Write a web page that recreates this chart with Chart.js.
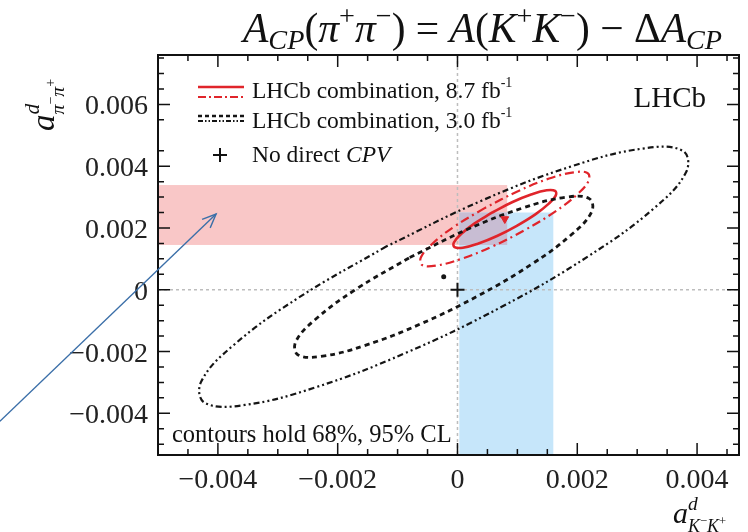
<!DOCTYPE html>
<html><head><meta charset="utf-8">
<script src="https://cdn.jsdelivr.net/npm/chart.js@4/dist/chart.umd.min.js"></script>
<style>html,body{margin:0;padding:0;background:#fff}canvas{display:block}</style>
</head><body>
<canvas id="c" width="748" height="532"></canvas>
<script>
// ---- axis ranges & ticks ----
const xRange = [-0.005, 0.0047];
const yRange = [-0.00535, 0.0076];
const xMajorTicks = [-0.004, -0.002, 0, 0.002, 0.004];
const yMajorTicks = [-0.004, -0.002, 0, 0.002, 0.004, 0.006];
const xTickLabels = ['\u22120.004', '\u22120.002', '0', '0.002', '0.004'];
const yTickLabels = ['\u22120.004', '\u22120.002', '0', '0.002', '0.004', '0.006'];
const xMinorTicks = [-0.005,-0.0045,-0.0035,-0.003,-0.0025,-0.0015,-0.001,-0.0005,0.0005,0.001,0.0015,0.0025,0.003,0.0035,0.0045];
const yMinorTicks = [-0.005,-0.0045,-0.0035,-0.003,-0.0025,-0.0015,-0.001,-0.0005,0.0005,0.001,0.0015,0.0025,0.003,0.0035,0.0045,0.0055,0.0065,0.007,0.0075];

// ---- bands (x range, y range) ----
const pinkBandX = [-0.005, 0.00083];
const pinkBandY = [0.00145, 0.00339];
const blueBandX = [0.00003, 0.0016];
const blueBandY = [-0.00535, 0.0025];

// ---- contours ----
const blk68X = [0.00220,0.00179,0.00108,0.00016,-0.00081,-0.00170,-0.00236,-0.00270,-0.00266,-0.00225,-0.00154,-0.00062,0.00035,0.00124,0.00190,0.00224];
const blk68Y = [0.00295,0.00299,0.00264,0.00195,0.00103,0.00001,-0.00094,-0.00168,-0.00211,-0.00215,-0.00180,-0.00111,-0.00019,0.00083,0.00178,0.00252];
const blk95X = [0.00376,0.00309,0.00191,0.00041,-0.00119,-0.00264,-0.00373,-0.00428,-0.00422,-0.00355,-0.00237,-0.00087,0.00073,0.00218,0.00327,0.00382];
const blk95Y = [0.00450,0.00457,0.00400,0.00289,0.00140,-0.00024,-0.00178,-0.00298,-0.00366,-0.00373,-0.00316,-0.00205,-0.00056,0.00108,0.00262,0.00382];
const red68X = [0.00163,0.00149,0.00124,0.00092,0.00059,0.00028,0.00006,-0.00006,-0.00005,0.00009,0.00034,0.00066,0.00099,0.00130,0.00152,0.00164];
const red68Y = [0.00320,0.00322,0.00309,0.00284,0.00251,0.00214,0.00180,0.00153,0.00138,0.00136,0.00149,0.00174,0.00207,0.00244,0.00278,0.00305];
const red95X = [0.00217,0.00194,0.00153,0.00101,0.00046,-0.00005,-0.00042,-0.00061,-0.00059,-0.00036,0.00005,0.00057,0.00112,0.00163,0.00200,0.00219];
const red95Y = [0.00378,0.00380,0.00360,0.00319,0.00265,0.00205,0.00149,0.00105,0.00080,0.00078,0.00099,0.00139,0.00193,0.00253,0.00309,0.00353];

// ---- central values ----
const central87 = [0.00079, 0.00229];
const central30 = [-0.00023, 0.00042];
const noCPV = [0, 0];

// ---- annotation arrow (data coords) ----
const arrowFrom = [-0.00764, -0.00426];
const arrowTo = [-0.00403, 0.00245];

const RED = '#e0252b';
const BLK = '#151515';
const SERIF = '"Liberation Serif", "DejaVu Serif", serif';

function closedPts(xs, ys, start) {
  const pts = xs.map((x, i) => ({x, y: ys[i]}));
  const r = pts.slice(start).concat(pts.slice(0, start));
  r.push(r[0]);
  return r;
}

const contour = (label, xs, ys, color, width, dash) => ({
  label, data: closedPts(xs, ys, 4), showLine: true, tension: 0.4,
  borderColor: color, borderWidth: width, borderDash: dash,
  pointRadius: 0, fill: false, order: 2
});

function drawRich(ctx, x, y, parts, size) {
  let cx = x;
  for (const p of parts) {
    ctx.font = (p.f === 'i' ? 'italic ' : '') + (size * (p.s || 1)) + 'px ' + SERIF;
    ctx.fillText(p.t, cx, y + size * (p.dy || 0));
    if (!p.noadv) cx += ctx.measureText(p.t).width + (p.kern || 0);
  }
  return cx;
}

const deco = {
  id: 'deco',
  beforeDatasetsDraw(c) {
    const {ctx, chartArea: a} = c; const X = c.scales.x, Y = c.scales.y;
    ctx.save();
    const band = (bx, by, col) => {
      const x0 = X.getPixelForValue(bx[0]), x1 = X.getPixelForValue(bx[1]);
      const y0 = Y.getPixelForValue(by[0]), y1 = Y.getPixelForValue(by[1]);
      ctx.fillStyle = col; ctx.fillRect(x0, y1, x1 - x0, y0 - y1);
    };
    band(pinkBandX, pinkBandY, '#f9c7c7');
    band(blueBandX, blueBandY, '#c6e6fa');
    band([Math.max(pinkBandX[0], blueBandX[0]), Math.min(pinkBandX[1], blueBandX[1])],
         [Math.max(pinkBandY[0], blueBandY[0]), Math.min(pinkBandY[1], blueBandY[1])], '#c8bdd3');
    ctx.strokeStyle = '#bdbdbd'; ctx.lineWidth = 1.5; ctx.setLineDash([3, 3]);
    const zx = X.getPixelForValue(0), zy = Y.getPixelForValue(0);
    ctx.beginPath(); ctx.moveTo(zx, a.top); ctx.lineTo(zx, a.bottom); ctx.stroke();
    ctx.beginPath(); ctx.moveTo(a.left, zy); ctx.lineTo(a.right, zy); ctx.stroke();
    ctx.restore();
  },
  afterDraw(c) {
    const {ctx, chartArea: a} = c; const X = c.scales.x, Y = c.scales.y;
    ctx.save();
    ctx.setLineDash([]);
    ctx.strokeStyle = '#111'; ctx.lineWidth = 2;
    ctx.strokeRect(a.left, a.top, a.right - a.left, a.bottom - a.top);
    ctx.lineWidth = 1.5;
    const tickX = (v, len) => { const p = X.getPixelForValue(v);
      ctx.beginPath(); ctx.moveTo(p, a.bottom); ctx.lineTo(p, a.bottom - len);
      ctx.moveTo(p, a.top); ctx.lineTo(p, a.top + len); ctx.stroke(); };
    const tickY = (v, len) => { const p = Y.getPixelForValue(v);
      ctx.beginPath(); ctx.moveTo(a.left, p); ctx.lineTo(a.left + len, p);
      ctx.moveTo(a.right, p); ctx.lineTo(a.right - len, p); ctx.stroke(); };
    xMajorTicks.forEach(v => tickX(v, 12)); xMinorTicks.forEach(v => tickX(v, 6));
    yMajorTicks.forEach(v => tickY(v, 12)); yMinorTicks.forEach(v => tickY(v, 6));

    // tick labels
    ctx.fillStyle = '#222';
    ctx.font = '28px ' + SERIF;
    ctx.textAlign = 'center'; ctx.textBaseline = 'alphabetic';
    xMajorTicks.forEach((v, i) => ctx.fillText(xTickLabels[i], X.getPixelForValue(v), 488));
    ctx.textAlign = 'right';
    yMajorTicks.forEach((v, i) => ctx.fillText(yTickLabels[i], a.left - 10, Y.getPixelForValue(v) + 10));
    ctx.textAlign = 'left';

    // title
    ctx.fillStyle = '#111';
    const title = [
      {t:'A',f:'i'},{t:'CP',f:'i',s:0.68,dy:0.16},{t:'(',f:'n'},{t:'\u03c0',f:'i'},{t:'+',f:'n',s:0.68,dy:-0.4},
      {t:'\u03c0',f:'i'},{t:'\u2212',f:'n',s:0.68,dy:-0.4},{t:') = ',f:'n'},{t:'A',f:'i'},{t:'(',f:'n'},
      {t:'K',f:'i'},{t:'+',f:'n',s:0.68,dy:-0.4},{t:'K',f:'i'},{t:'\u2212',f:'n',s:0.68,dy:-0.4},
      {t:') \u2212 \u0394',f:'n'},{t:'A',f:'i'},{t:'CP',f:'i',s:0.68,dy:0.16}];
    drawRich(ctx, 243, 42, title, 41.5);

    // y-axis title (rotated)
    ctx.save();
    ctx.translate(54, 131); ctx.rotate(-Math.PI / 2);
    drawRich(ctx, 0, 0, [
      {t:'a',f:'i'},{t:'d',f:'i',s:0.65,dy:-0.45,noadv:true},
      {t:'\u03c0',f:'i',s:0.6,dy:0.3},{t:'\u2212',f:'n',s:0.42,dy:0.02},
      {t:'\u03c0',f:'i',s:0.6,dy:0.3},{t:'+',f:'n',s:0.42,dy:0.02}], 33);
    ctx.restore();

    // x-axis title
    drawRich(ctx, 673, 523, [
      {t:'a',f:'i'},{t:'d',f:'i',s:0.65,dy:-0.45,noadv:true},
      {t:'K',f:'i',s:0.6,dy:0.3},{t:'\u2212',f:'n',s:0.42,dy:0.05},
      {t:'K',f:'i',s:0.6,dy:0.3},{t:'+',f:'n',s:0.42,dy:0.05}], 30);

    // legend
    const seg = (x0, x1, yy, col, w, dash) => { ctx.strokeStyle = col; ctx.lineWidth = w; ctx.setLineDash(dash);
      ctx.beginPath(); ctx.moveTo(x0, yy); ctx.lineTo(x1, yy); ctx.stroke(); };
    seg(198, 244, 87, RED, 2.5, []);
    seg(198, 244, 97, RED, 2, [8, 3, 2, 3]);
    seg(198, 244, 116, BLK, 2.6, [4, 3]);
    seg(198, 244, 121, BLK, 2, [5, 2, 1.5, 2, 1.5, 2]);
    ctx.setLineDash([]);
    ctx.fillStyle = '#111';
    drawRich(ctx, 252, 98, [{t:'LHCb combination, 8.7 fb'},{t:'-1',s:0.6,dy:-0.45}], 23.5);
    drawRich(ctx, 252, 128, [{t:'LHCb combination, 3.0 fb'},{t:'-1',s:0.6,dy:-0.45}], 23.5);
    drawRich(ctx, 252, 162, [{t:'No direct '},{t:'CPV',f:'i'}], 23.5);
    ctx.strokeStyle = '#111'; ctx.lineWidth = 2;
    ctx.beginPath(); ctx.moveTo(213, 155); ctx.lineTo(227, 155); ctx.moveTo(220, 148); ctx.lineTo(220, 162); ctx.stroke();

    // LHCb label & note
    ctx.textAlign = 'right';
    drawRich(ctx, 706, 107, [{t:'LHCb'}], 29);
    ctx.textAlign = 'left';
    drawRich(ctx, 172, 442, [{t:'contours hold 68%, 95% CL'}], 24.5);

    // annotation arrow
    const ax0 = X.getPixelForValue(arrowFrom[0]), ay0 = Y.getPixelForValue(arrowFrom[1]);
    const ax1 = X.getPixelForValue(arrowTo[0]), ay1 = Y.getPixelForValue(arrowTo[1]);
    ctx.strokeStyle = '#3b6fa8'; ctx.lineWidth = 1.4;
    ctx.beginPath(); ctx.moveTo(ax0, ay0); ctx.lineTo(ax1, ay1); ctx.stroke();
    const ang = Math.atan2(ay1 - ay0, ax1 - ax0), hl = 15;
    ctx.beginPath();
    ctx.moveTo(ax1 - hl * Math.cos(ang - 0.4), ay1 - hl * Math.sin(ang - 0.4));
    ctx.lineTo(ax1, ay1);
    ctx.lineTo(ax1 - hl * Math.cos(ang + 0.4), ay1 - hl * Math.sin(ang + 0.4));
    ctx.stroke();
    ctx.restore();
  }
};

new Chart(document.getElementById('c'), {
  type: 'scatter',
  data: { datasets: [
    contour('3.0 fb-1 95%', blk95X, blk95Y, BLK, 2.2, [6, 3, 2, 3, 2, 3]),
    contour('3.0 fb-1 68%', blk68X, blk68Y, BLK, 2.8, [5, 4]),
    contour('8.7 fb-1 95%', red95X, red95Y, RED, 2.2, [9, 4, 2, 4]),
    contour('8.7 fb-1 68%', red68X, red68Y, RED, 2.6, []),
    { label: 'central 8.7', data: [{x: central87[0], y: central87[1]}], pointStyle: 'triangle', rotation: 180,
      pointRadius: 4.5, backgroundColor: RED, borderColor: RED, borderWidth: 1, order: 1 },
    { label: 'central 3.0', data: [{x: central30[0], y: central30[1]}], pointStyle: 'circle',
      pointRadius: 2.5, backgroundColor: BLK, borderColor: BLK, borderWidth: 0, order: 1 },
    { label: 'No direct CPV', data: [{x: noCPV[0], y: noCPV[1]}], pointStyle: 'cross',
      pointRadius: 7, borderColor: BLK, borderWidth: 2, order: 1 }
  ]},
  options: {
    responsive: false, animation: false, devicePixelRatio: 1,
    layout: { padding: { left: 158, top: 55, right: 1, bottom: 77 } },
    plugins: { legend: { display: false }, tooltip: { enabled: false } },
    scales: {
      x: { type: 'linear', min: xRange[0], max: xRange[1], display: false },
      y: { type: 'linear', min: yRange[0], max: yRange[1], display: false }
    }
  },
  plugins: [deco]
});
</script>
</body></html>
